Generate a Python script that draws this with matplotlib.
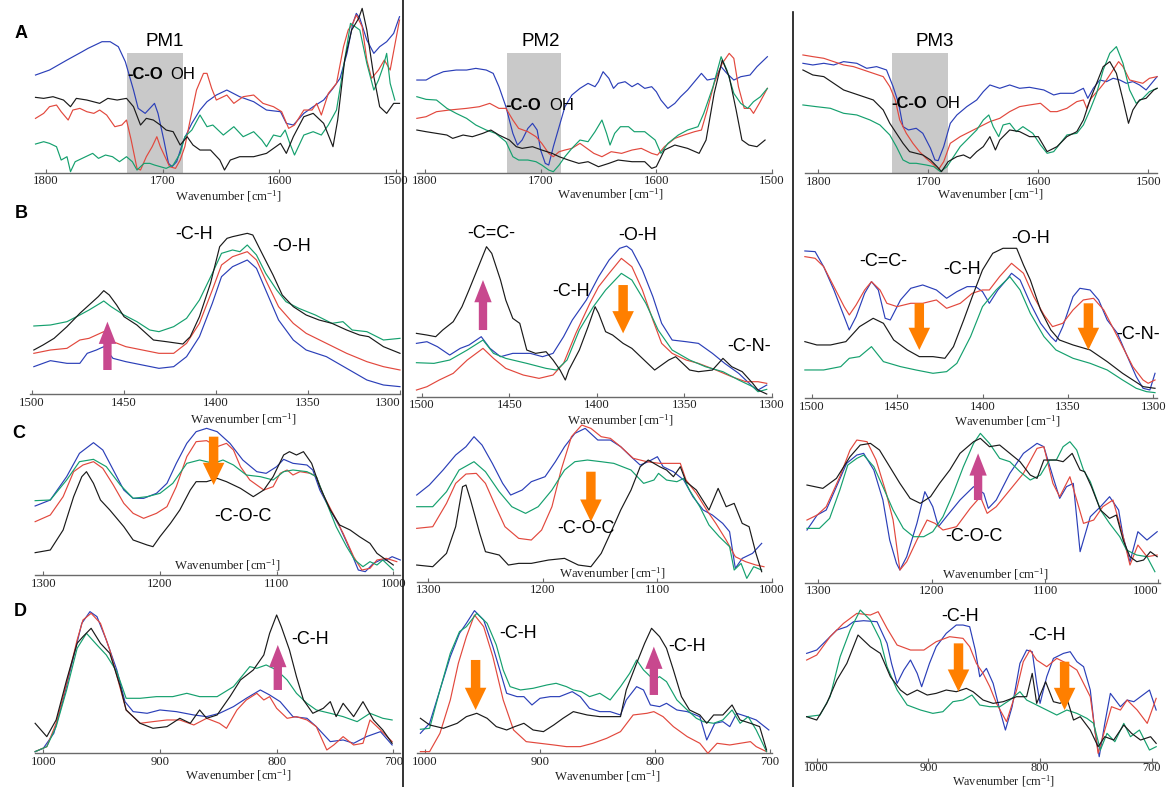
import matplotlib
matplotlib.use('Agg')
import matplotlib.pyplot as plt
from matplotlib.lines import Line2D

plt.rcParams['mathtext.fontset'] = 'custom'
plt.rcParams['mathtext.rm'] = 'Liberation Serif'
plt.rcParams['mathtext.it'] = 'Liberation Serif:italic'

W, H = 1169, 787
SERIF = 'Liberation Serif'
SANS = 'Liberation Sans'
COLORS = {'blue': '#2b3fb8', 'red': '#e2483d', 'green': '#15a06e', 'black': '#1a1a1a'}
MAGENTA = '#c8488e'
ORANGE = '#ff7f00'

# ---------------- DATA (absorbance, arbitrary units) ----------------
# Row A : 1800-1500 cm-1
A1_blue_x = [1809,1797,1782,1769,1764,1752,1745,1738,1732,1725,1721,1715,1711,1707,1704,1699,1695,1692,1688,1682,1675,1668,1662,1654,1645,1634,1622,1611,1599,1594,1588,1579,1571,1562,1554,1548,1542,1537,1534,1531,1525,1519,1514,1508,1502,1497]
A1_blue_y = [293,308,338,363,373,393,393,378,333,248,193,178,193,208,178,98,28,18,33,98,148,188,213,233,248,228,213,188,183,148,143,178,198,218,253,283,358,448,478,463,398,358,378,393,418,468]
A1_red_x = [1809,1802,1797,1791,1787,1781,1777,1771,1765,1759,1754,1748,1741,1735,1731,1727,1722,1719,1714,1709,1705,1702,1698,1694,1689,1685,1681,1677,1671,1665,1662,1658,1654,1645,1639,1631,1622,1614,1605,1598,1592,1587,1579,1572,1568,1564,1558,1551,1545,1541,1537,1534,1529,1525,1521,1515,1510,1505,1497]
A1_red_y = [163,178,198,203,183,158,188,193,183,178,188,173,138,143,158,98,13,8,48,78,108,78,48,18,13,38,78,148,248,298,298,253,218,233,208,228,233,208,198,183,133,143,188,188,208,173,238,268,378,428,448,473,438,338,283,308,338,308,458]
A1_green_x = [1809,1802,1797,1791,1787,1782,1779,1775,1769,1760,1755,1749,1743,1737,1731,1726,1722,1716,1711,1707,1702,1697,1691,1685,1681,1675,1668,1662,1657,1648,1639,1631,1622,1615,1611,1605,1599,1595,1591,1587,1579,1571,1564,1558,1551,1544,1539,1535,1531,1525,1519,1515,1511,1508,1505,1501]
A1_green_y = [86,93,88,78,38,48,3,33,43,58,43,53,48,33,48,33,8,28,28,23,18,13,23,58,108,128,173,138,143,113,138,108,123,98,78,113,108,128,88,53,113,123,113,143,188,338,448,438,428,328,248,278,318,358,268,218]
A1_black_x = [1809,1802,1794,1785,1779,1774,1765,1754,1747,1739,1731,1725,1719,1714,1708,1702,1697,1691,1685,1679,1674,1668,1659,1651,1647,1642,1634,1622,1611,1599,1594,1588,1579,1571,1562,1558,1554,1550,1544,1538,1532,1529,1525,1519,1514,1508,1502,1497]
A1_black_y = [226,223,228,218,198,223,218,208,223,218,223,198,143,163,158,143,128,123,83,108,83,68,68,38,8,38,48,48,58,88,58,108,168,178,148,113,78,158,338,428,463,493,428,288,198,178,208,208]

A2_blue_x = [1807,1799,1793,1784,1773,1764,1756,1747,1741,1736,1730,1724,1720,1716,1711,1707,1703,1700,1696,1693,1689,1684,1679,1673,1666,1659,1653,1650,1646,1641,1637,1633,1627,1621,1616,1610,1604,1600,1596,1590,1584,1579,1573,1567,1561,1556,1549,1544,1539,1533,1527,1519,1513,1504]
A2_blue_y = [278,278,290,303,308,308,313,308,298,258,198,118,83,98,133,148,128,68,28,23,78,138,198,233,253,268,258,273,303,283,253,268,273,258,268,253,258,243,218,193,208,228,248,273,298,278,283,318,298,278,288,293,318,348]
A2_red_x = [1807,1799,1790,1779,1764,1753,1744,1736,1730,1724,1719,1711,1704,1699,1693,1689,1684,1679,1673,1666,1660,1654,1647,1639,1630,1621,1613,1604,1599,1593,1584,1576,1567,1561,1556,1550,1543,1537,1533,1529,1524,1519,1516,1511,1504]
A2_red_y = [163,168,183,188,193,198,208,193,193,158,133,123,108,88,58,48,63,68,73,88,73,58,48,63,58,68,73,58,53,78,103,113,123,128,188,268,328,358,343,258,193,193,178,208,253]
A2_green_x = [1807,1799,1790,1781,1773,1764,1756,1747,1739,1730,1724,1719,1711,1704,1699,1693,1689,1684,1679,1673,1666,1659,1653,1647,1643,1640,1636,1631,1624,1619,1610,1601,1596,1590,1581,1573,1564,1559,1551,1544,1539,1533,1527,1521,1516,1510,1504]
A2_green_y = [228,220,218,193,178,163,143,128,118,93,48,38,38,33,23,8,3,23,48,73,98,93,123,158,118,83,118,138,138,123,123,98,58,88,113,128,138,178,258,348,308,238,208,193,213,228,253]
A2_black_x = [1807,1799,1790,1781,1776,1767,1759,1750,1743,1736,1727,1721,1716,1707,1699,1690,1684,1676,1667,1659,1650,1641,1633,1621,1610,1604,1600,1593,1584,1573,1563,1557,1550,1543,1537,1531,1526,1520,1513,1506]
A2_black_y = [128,123,118,113,103,113,108,118,128,113,98,78,73,78,68,58,48,38,28,33,18,28,38,33,33,13,18,68,83,73,58,98,238,338,288,188,98,83,78,98]

A3_blue_x = [1814,1805,1795,1786,1777,1765,1756,1747,1738,1732,1727,1723,1718,1711,1705,1698,1694,1691,1686,1680,1674,1665,1656,1650,1644,1635,1626,1617,1608,1595,1586,1580,1568,1559,1555,1550,1544,1538,1532,1526,1520,1514,1508,1502,1497,1492]
A3_blue_y = [330,325,330,325,335,330,315,320,310,260,210,140,130,135,120,75,40,38,80,150,175,200,220,245,265,255,265,255,258,250,235,240,240,255,225,255,280,275,285,280,270,275,265,250,270,290]
A3_red_x = [1814,1805,1795,1786,1777,1768,1759,1750,1741,1735,1730,1726,1720,1714,1708,1702,1695,1691,1686,1680,1671,1662,1653,1644,1635,1626,1617,1608,1598,1589,1583,1574,1565,1559,1556,1552,1544,1538,1532,1527,1523,1517,1511,1505,1499,1492]
A3_red_y = [355,350,345,335,325,320,310,300,290,260,220,160,120,90,65,45,25,10,35,90,110,125,140,155,165,185,200,205,210,185,185,195,215,220,195,225,255,280,310,335,320,280,275,270,285,290]
A3_green_x = [1814,1802,1789,1777,1765,1753,1744,1735,1729,1723,1717,1711,1702,1695,1689,1683,1677,1671,1662,1656,1650,1645,1641,1636,1632,1626,1620,1614,1605,1598,1592,1586,1580,1574,1565,1559,1553,1547,1541,1535,1529,1523,1517,1511,1505,1499,1492]
A3_green_y = [205,200,195,180,175,160,145,115,80,40,30,30,25,20,5,20,50,80,110,130,160,175,140,110,145,150,125,140,120,85,60,65,90,115,120,145,190,240,310,360,380,330,250,210,225,245,255]
A3_black_x = [1814,1805,1795,1786,1777,1768,1759,1750,1741,1735,1729,1723,1717,1711,1705,1698,1692,1688,1682,1674,1668,1662,1656,1650,1644,1639,1635,1626,1617,1608,1600,1592,1583,1574,1565,1559,1553,1547,1541,1535,1529,1523,1518,1514,1508,1502,1495,1492]
A3_black_y = [310,295,290,270,250,240,230,220,190,150,120,90,65,60,55,40,20,5,35,50,55,45,65,80,110,70,100,130,125,110,110,65,80,110,125,160,220,270,320,335,300,220,150,190,220,225,250,255]

# Row B : 1500-1300 cm-1
B1_blue_x = [1499,1490,1481,1474,1470,1465,1461,1456,1449,1440,1431,1423,1416,1409,1402,1397,1391,1383,1378,1373,1366,1358,1351,1340,1329,1318,1309,1300]
B1_blue_y = [82,100,92,92,122,132,142,107,97,87,77,82,112,172,272,352,382,402,377,312,222,162,132,112,77,42,27,22]
B1_red_x = [1499,1490,1481,1474,1469,1463,1461,1456,1449,1440,1431,1423,1416,1409,1402,1397,1391,1383,1378,1373,1366,1358,1351,1340,1329,1318,1309,1300]
B1_red_y = [122,132,137,162,167,182,187,157,142,132,122,122,152,212,312,387,412,427,402,342,262,212,182,152,122,97,82,72]
B1_green_x = [1499,1490,1481,1474,1469,1463,1461,1457,1450,1443,1436,1431,1423,1416,1409,1402,1397,1391,1387,1383,1378,1373,1367,1362,1355,1346,1337,1331,1326,1318,1309,1300]
B1_green_y = [204,207,217,237,252,272,279,262,237,217,192,187,202,227,282,362,422,432,427,447,417,362,312,277,257,237,212,217,192,187,162,167]
B1_black_x = [1499,1494,1488,1481,1474,1469,1464,1461,1458,1454,1450,1443,1438,1434,1427,1418,1414,1409,1403,1398,1394,1391,1383,1380,1375,1369,1364,1358,1351,1344,1337,1329,1322,1317,1309,1300]
B1_black_y = [132,147,167,202,242,267,292,310,297,267,232,207,182,162,157,150,172,232,332,442,467,472,482,477,422,357,297,262,237,222,212,192,177,172,142,122]

B2_blue_x = [1503,1497,1491,1484,1478,1473,1466,1461,1455,1448,1438,1431,1425,1419,1414,1406,1399,1393,1387,1383,1380,1374,1368,1363,1357,1349,1342,1334,1327,1319,1311,1308,1303]
B2_blue_y = [160,165,150,125,145,155,180,145,120,130,130,120,130,180,230,290,360,410,445,452,440,380,300,220,170,165,160,130,100,70,30,20,35]
B2_red_x = [1503,1497,1490,1482,1474,1465,1459,1452,1442,1433,1425,1419,1412,1404,1399,1393,1386,1380,1374,1368,1363,1357,1349,1342,1332,1323,1315,1308,1303]
B2_red_y = [20,30,50,70,110,145,115,85,65,55,65,100,190,280,330,370,415,390,320,230,160,130,110,100,80,60,45,45,40]
B2_green_x = [1503,1493,1484,1474,1465,1459,1452,1440,1429,1423,1417,1410,1402,1395,1386,1380,1372,1365,1357,1347,1338,1328,1319,1311,1308,1303]
B2_green_y = [102,100,110,140,170,130,115,100,85,80,110,200,270,320,370,350,280,200,140,110,90,75,50,30,15,22]
B2_black_x = [1503,1497,1492,1488,1482,1477,1473,1468,1463,1460,1455,1452,1448,1444,1440,1435,1429,1425,1421,1418,1416,1410,1405,1401,1399,1395,1391,1385,1380,1374,1367,1363,1359,1355,1351,1347,1342,1334,1328,1323,1317,1311,1308,1303]
B2_black_y = [190,185,180,200,225,270,320,385,450,430,350,290,235,220,140,130,135,110,80,50,80,140,210,270,250,195,185,160,145,115,80,95,110,120,100,80,75,80,115,90,75,40,20,8]

B3_blue_x = [1504,1498,1493,1487,1481,1478,1474,1469,1465,1461,1457,1454,1448,1442,1435,1427,1421,1415,1409,1404,1400,1396,1391,1386,1383,1378,1372,1366,1360,1357,1353,1347,1343,1337,1332,1327,1321,1316,1310,1306,1302,1299]
B3_blue_y = [442,440,395,325,245,205,245,315,350,325,240,235,295,330,340,325,300,320,335,335,320,285,325,355,375,355,285,225,185,170,215,305,330,325,295,235,195,135,65,30,25,75]
B3_red_x = [1504,1498,1493,1487,1481,1478,1474,1469,1465,1460,1456,1450,1442,1435,1427,1421,1413,1406,1400,1396,1390,1383,1376,1370,1364,1359,1353,1347,1341,1335,1329,1323,1318,1312,1306,1303,1299]
B3_red_y = [425,420,395,335,275,250,280,325,350,325,285,275,285,285,295,270,285,315,325,325,365,405,375,305,250,215,225,265,295,300,265,205,155,95,55,45,55]
B3_green_x = [1504,1493,1483,1478,1472,1465,1458,1448,1439,1429,1421,1415,1407,1400,1392,1384,1378,1372,1364,1357,1347,1337,1327,1318,1310,1304,1299]
B3_green_y = [85,85,95,120,125,155,110,95,85,75,80,105,185,275,325,365,325,255,185,145,120,105,85,55,30,20,17]
B3_black_x = [1504,1497,1489,1480,1472,1464,1458,1452,1444,1437,1429,1422,1417,1411,1406,1400,1394,1388,1380,1376,1372,1366,1360,1355,1347,1337,1327,1318,1312,1306,1299]
B3_black_y = [170,160,160,170,215,240,225,175,145,125,125,120,155,235,305,385,435,450,450,400,355,265,205,175,160,145,110,75,55,35,30]

# Row C : 1300-1000 cm-1
C1_blue_x = [1307,1294,1280,1269,1257,1249,1240,1231,1223,1214,1203,1194,1186,1177,1169,1160,1151,1140,1129,1117,1109,1100,1094,1086,1074,1069,1063,1054,1046,1037,1030,1024,1017,1011,1006,1001,994]
C1_blue_y = [207,225,295,365,397,375,315,255,230,230,245,275,335,395,430,440,430,395,345,310,305,325,347,335,330,315,255,195,145,75,15,10,35,45,45,55,45]
C1_red_x = [1307,1294,1283,1274,1266,1257,1249,1240,1231,1223,1214,1203,1194,1186,1177,1169,1160,1151,1143,1137,1131,1123,1111,1103,1097,1091,1086,1080,1071,1066,1060,1051,1043,1034,1027,1020,1014,1006,997]
C1_red_y = [160,180,235,310,330,340,320,270,215,185,170,185,205,265,355,400,403,385,395,375,325,285,255,265,305,315,300,310,305,295,240,180,125,55,15,20,45,50,40]
C1_green_x = [1307,1294,1280,1269,1257,1246,1234,1223,1211,1200,1189,1177,1166,1154,1146,1137,1126,1114,1103,1094,1086,1074,1066,1057,1049,1040,1033,1026,1020,1014,1009,1000]
C1_green_y = [223,225,285,340,347,325,270,230,235,245,275,335,345,335,345,330,300,295,285,310,315,310,295,215,145,85,45,25,40,30,45,15]
C1_black_x = [1307,1294,1283,1274,1267,1263,1257,1251,1243,1231,1223,1211,1206,1200,1191,1183,1174,1169,1160,1151,1143,1131,1120,1111,1103,1094,1089,1083,1077,1070,1063,1054,1046,1037,1029,1020,1014,1006,1000]
C1_black_y = [67,75,135,235,295,310,275,225,195,145,105,90,85,115,155,195,255,280,280,290,280,260,235,255,295,360,370,360,370,335,265,195,150,135,115,95,65,45,30]

C2_blue_x = [1310,1299,1287,1276,1267,1260,1253,1244,1235,1228,1218,1210,1198,1189,1181,1172,1163,1152,1141,1132,1123,1115,1108,1100,1095,1086,1077,1069,1060,1052,1043,1037,1032,1026,1017,1009]
C2_blue_y = [260,290,335,380,405,435,410,355,295,260,275,300,315,360,405,445,460,425,425,405,375,350,360,375,345,330,305,255,215,200,175,150,40,70,85,115]
C2_red_x = [1310,1296,1284,1276,1267,1258,1250,1241,1233,1221,1210,1201,1192,1184,1175,1166,1158,1149,1141,1132,1121,1109,1098,1089,1080,1075,1066,1057,1049,1040,1032,1023,1014,1007]
C2_red_y = [160,165,235,295,323,325,295,225,165,130,125,155,225,335,435,470,460,435,430,405,370,360,355,355,355,305,265,215,175,125,75,60,50,45]
C2_green_x = [1310,1296,1284,1273,1260,1250,1238,1227,1215,1204,1192,1181,1172,1161,1149,1138,1123,1112,1103,1099,1092,1083,1077,1072,1063,1055,1046,1037,1033,1027,1022,1016,1009]
C2_green_y = [225,225,270,335,360,330,270,225,205,225,275,335,360,365,360,355,335,295,305,325,305,300,310,275,225,170,135,105,35,55,10,45,35]
C2_black_x = [1310,1296,1284,1276,1270,1267,1263,1255,1250,1238,1230,1221,1210,1195,1181,1169,1158,1149,1141,1132,1123,1115,1108,1098,1092,1086,1080,1075,1066,1055,1047,1040,1033,1026,1020,1014,1009]
C2_black_y = [50,45,85,165,285,290,245,145,90,80,50,55,55,65,70,50,45,85,145,215,275,345,365,345,335,315,345,300,275,215,280,225,235,175,165,85,30]

C3_blue_x = [1310,1301,1293,1284,1275,1266,1260,1251,1243,1237,1231,1228,1222,1213,1206,1199,1194,1187,1175,1163,1154,1150,1143,1131,1119,1107,1101,1093,1087,1081,1075,1069,1060,1051,1043,1035,1031,1025,1018,1010,1001]
C3_blue_y = [158,203,218,288,358,383,388,338,248,128,58,38,78,178,273,228,168,198,248,288,268,223,248,328,388,418,408,318,253,288,298,93,198,228,258,218,138,63,153,128,153]
C3_red_x = [1310,1301,1293,1281,1272,1266,1257,1249,1240,1234,1228,1222,1213,1204,1197,1190,1178,1166,1157,1151,1143,1131,1119,1107,1101,1093,1087,1078,1072,1066,1057,1049,1040,1031,1025,1018,1010,1001]
C3_red_y = [188,203,228,318,398,428,423,368,268,188,38,63,128,188,178,158,168,223,258,208,228,278,328,403,408,298,258,318,248,178,188,228,248,138,53,113,78,83]
C3_green_x = [1310,1299,1290,1281,1274,1266,1260,1251,1243,1234,1225,1216,1207,1199,1190,1181,1172,1163,1157,1149,1140,1131,1122,1113,1104,1096,1090,1084,1078,1072,1066,1060,1051,1043,1034,1028,1019,1010,1003]
C3_green_y = [163,163,193,278,353,373,383,348,288,218,163,138,138,153,198,268,348,418,448,418,373,363,333,308,323,368,368,408,423,398,338,303,218,178,138,98,83,78,33]
C3_black_x = [1310,1296,1284,1272,1263,1254,1246,1237,1228,1219,1210,1201,1193,1184,1175,1163,1157,1149,1140,1131,1122,1113,1107,1101,1096,1090,1084,1076,1069,1065,1059,1051,1043,1037,1031,1025,1019,1013,1007,1001]
C3_black_y = [293,283,313,378,413,418,398,348,298,253,238,258,298,338,388,423,433,408,413,388,363,323,313,368,368,368,363,388,338,333,288,218,193,203,128,78,63,68,93,78]

# Row D : 1000-700 cm-1
D1_blue_x = [1007,1000,991,983,974,967,960,954,946,937,930,923,911,900,886,871,860,849,837,826,814,806,797,786,774,766,754,743,734,723,711,701]
D1_blue_y = [5,15,60,160,290,390,425,410,340,250,155,125,120,130,125,115,110,120,140,165,190,175,155,110,105,80,35,40,30,50,65,25]
D1_red_x = [1007,997,989,980,971,966,959,951,943,936,929,917,906,894,883,871,860,849,843,834,826,817,811,806,800,791,783,774,766,757,751,743,734,726,720,711,701]
D1_red_y = [5,20,90,210,340,400,420,390,310,220,130,90,95,100,100,85,105,90,75,130,160,180,160,170,135,105,110,100,80,10,25,50,25,30,100,70,35]
D1_green_x = [1007,997,989,980,971,963,954,946,937,929,917,903,889,877,866,851,837,823,817,809,800,791,783,774,766,754,743,731,720,709,701]
D1_green_y = [5,20,80,190,315,360,325,295,245,165,165,170,170,180,170,170,200,260,255,265,250,220,180,150,130,120,110,95,120,105,100]
D1_black_x = [1007,997,989,980,971,966,959,951,943,934,929,917,906,894,883,874,866,860,851,840,831,820,811,806,800,796,789,783,777,769,760,754,749,743,734,726,717,709,701]
D1_black_y = [90,50,100,220,330,350,375,330,300,200,130,90,75,80,105,90,130,105,115,170,220,250,295,360,415,380,310,230,160,120,135,155,110,150,110,155,100,70,30]

D2_blue_x = [1004,996,987,978,970,964,957,949,941,935,929,920,914,907,900,891,883,872,865,857,848,839,830,825,816,810,804,796,790,781,772,761,755,748,741,735,729,720,712,701]
D2_blue_y = [60,90,190,290,360,390,428,400,320,250,180,170,170,145,165,170,170,185,170,135,125,125,115,160,200,190,145,140,150,130,125,110,40,90,95,80,120,110,100,70]
D2_red_x = [1004,996,987,978,971,964,957,949,941,932,923,912,900,888,877,865,854,842,830,819,807,801,793,784,772,761,754,746,735,726,717,712,703]
D2_red_y = [5,5,60,160,270,350,415,380,290,160,70,35,30,25,20,20,30,45,65,115,120,125,110,80,50,30,0,30,25,30,35,20,5]
D2_green_x = [1004,996,987,978,970,964,955,946,938,932,926,917,906,894,886,877,871,864,857,848,839,830,822,816,810,801,796,790,781,772,764,758,749,741,733,726,719,712,703]
D2_green_y = [72,75,190,300,365,380,420,390,325,250,200,190,195,205,210,200,190,185,170,180,160,200,240,280,250,220,230,215,160,130,105,95,90,100,130,90,110,70,5]
D2_black_x = [1004,996,984,972,964,955,946,938,929,922,914,906,897,888,880,871,859,848,839,830,825,816,809,803,796,790,784,777,770,761,755,749,741,733,726,717,709,703]
D2_black_y = [105,85,75,90,110,120,105,80,70,80,90,70,65,85,105,125,115,110,110,110,190,270,330,375,350,315,250,170,130,115,90,115,115,145,100,90,80,10]

D3_blue_x = [1009,1000,991,982,973,967,958,946,937,933,928,922,916,910,906,899,893,884,875,869,863,858,854,848,842,836,831,825,818,812,807,803,800,794,788,779,773,767,761,755,751,747,742,737,728,722,716,710,702,696]
D3_blue_y = [325,335,365,395,405,420,423,420,355,295,235,275,305,265,225,295,345,385,410,410,405,335,255,280,235,155,95,165,295,335,330,235,175,255,310,325,330,300,285,215,95,15,115,205,165,185,180,195,215,155]
D3_red_x = [1009,1000,988,976,964,952,945,937,928,916,904,893,881,869,863,857,851,845,839,830,821,815,809,803,794,785,776,767,761,755,748,742,736,728,722,713,704,696]
D3_red_y = [305,320,375,415,445,440,450,400,350,335,335,360,375,370,345,295,265,225,175,120,215,300,335,305,285,310,295,275,235,195,25,95,165,155,185,155,115,190]
D3_green_x = [1009,997,988,979,970,961,952,943,937,928,919,907,896,887,878,869,861,854,845,836,827,818,812,803,794,785,776,767,758,752,746,740,733,725,719,711,702,696]
D3_green_y = [135,140,195,315,395,455,425,365,285,215,170,155,145,150,180,185,200,170,165,165,185,210,185,170,155,140,155,145,130,115,35,85,60,115,75,95,35,45]
D3_black_x = [1009,1000,991,982,973,963,952,943,934,925,919,910,901,893,884,875,866,860,851,842,833,821,812,807,803,795,788,782,776,770,764,755,748,742,734,725,718,710,701,696]
D3_black_y = [135,125,175,245,295,380,345,325,255,215,200,215,200,205,215,210,220,210,185,175,180,195,195,265,175,240,180,175,190,125,135,95,45,75,65,110,85,65,75,55]

TICKS_A = [1800, 1700, 1600, 1500]
TICKS_B = [1500, 1450, 1400, 1350, 1300]
TICKS_C = [1300, 1200, 1100, 1000]
TICKS_D = [1000, 900, 800, 700]

# ---------------- LAYOUT (pixel calibration of each panel) ----------------
LAYOUT = {
    'A1': dict(cal=(1800, 46, 1500, 396), xr=(35, 400), base=172.7, top=0, ticks=TICKS_A),
    'A2': dict(cal=(1800, 425, 1500, 775), xr=(417, 772), base=172.7, top=0, ticks=TICKS_A),
    'A3': dict(cal=(1800, 818.3, 1500, 1148.3), xr=(805, 1157), base=173.3, top=0, ticks=TICKS_A),
    'B1': dict(cal=(1500, 32, 1300, 400.7), xr=(30, 400), base=394, top=200, ticks=TICKS_B),
    'B2': dict(cal=(1500, 421.7, 1300, 773.3), xr=(417, 772), base=396.7, top=200, ticks=TICKS_B),
    'B3': dict(cal=(1500, 811.7, 1300, 1153.3), xr=(805, 1157), base=398.3, top=200, ticks=TICKS_B),
    'C1': dict(cal=(1300, 43.3, 1000, 393.3), xr=(35, 400), base=575, top=420, ticks=TICKS_C),
    'C2': dict(cal=(1300, 428.3, 1000, 776.7), xr=(417, 772), base=581.7, top=420, ticks=TICKS_C),
    'C3': dict(cal=(1300, 818.3, 1000, 1158.3), xr=(805, 1160), base=582.7, top=420, ticks=TICKS_C),
    'D1': dict(cal=(1000, 43.3, 700, 393.3), xr=(35, 400), base=753.3, top=600, ticks=TICKS_D),
    'D2': dict(cal=(1000, 425, 700, 770), xr=(417, 772), base=753.3, top=600, ticks=TICKS_D),
    'D3': dict(cal=(1000, 816.7, 700, 1151.7), xr=(805, 1157), base=761.7, top=600, ticks=TICKS_D),
}
RIGHT_ALIGN_LAST = ('B1', 'C3')

LABELS = [
    ('B1', '-C-H', 1412, 479), ('B1', '-O-H', 1359, 442),
    ('B2', '-C=C-', 1460, 490), ('B2', '-O-H', 1377, 485), ('B2', '-C-H', 1415, 315), ('B2', '-C-N-', 1313, 150),
    ('B3', '-C=C-', 1458, 410), ('B3', '-C-H', 1412, 385), ('B3', '-O-H', 1372, 480), ('B3', '-C-N-', 1309, 190),
    ('C1', '-C-O-C', 1129, 175), ('C2', '-C-O-C', 1162, 160), ('C3', '-C-O-C', 1163, 138),
    ('D1', '-C-H', 771, 340), ('D2', '-C-H', 919, 360), ('D2', '-C-H', 772, 320),
    ('D3', '-C-H', 872, 435), ('D3', '-C-H', 794, 380),
]
ARROWS = [
    ('B1', 1459, 72, 217, MAGENTA),
    ('B2', 1465, 200, 350, MAGENTA), ('B2', 1385, 335, 190, ORANGE),
    ('B3', 1437, 285, 145, ORANGE), ('B3', 1338, 285, 145, ORANGE),
    ('C1', 1154, 415, 270, ORANGE), ('C2', 1158, 330, 180, ORANGE), ('C3', 1159, 248, 388, MAGENTA),
    ('D1', 799, 190, 325, MAGENTA), ('D2', 956, 280, 130, ORANGE), ('D2', 801, 175, 320, MAGENTA),
    ('D3', 873, 355, 210, ORANGE), ('D3', 778, 300, 155, ORANGE),
]
BANDS = [
    ('A1', 1730.6, 1682.6, 360, 'PM1', 1698, 393, 1730.6, 296, 1693.7),
    ('A2', 1729.4, 1682.0, 360, 'PM2', 1700, 393, 1730.6, 203, 1692.9),
    ('A3', 1733.3, 1682.4, 360, 'PM3', 1694, 395, 1733.3, 210, 1693.3),
]
XLABEL_POS = [(228, 196), (610, 194), (990, 194), (243, 419), (620, 420), (1007, 421),
              (227, 565), (612, 573), (995, 574), (238, 775), (607, 776), (1003, 781.5)]

# ---------------- FIGURE ----------------
fig = plt.figure(figsize=(W / 100, H / 100), dpi=100)
axes = {}
for name, L in LAYOUT.items():
    wa, pa, wb, pb = L['cal']
    slope = (pb - pa) / (wb - wa)
    x0 = wa + (L['xr'][0] - pa) / slope
    x1 = wa + (L['xr'][1] - pa) / slope
    ax = fig.add_axes([L['xr'][0] / W, 1 - L['base'] / H,
                       (L['xr'][1] - L['xr'][0]) / W, (L['base'] - L['top']) / H])
    ax.set_xlim(x0, x1)
    ax.set_ylim(0, (L['base'] - L['top']) * 3)
    ax.patch.set_alpha(0)
    for s in ('left', 'right', 'top'):
        ax.spines[s].set_visible(False)
    ax.spines['bottom'].set_color('#6a6a6a')
    ax.spines['bottom'].set_linewidth(1.0)
    ax.set_yticks([])
    ax.set_xticks(L['ticks'])
    fs = 8.8 if name == 'D3' else 9.2
    labs = ax.set_xticklabels([str(t) for t in L['ticks']], fontfamily=SERIF, fontsize=fs, color='#222222')
    if name in RIGHT_ALIGN_LAST:
        labs[-1].set_horizontalalignment('right')
    ax.tick_params(axis='x', direction='in', length=3, width=0.8, color='#6a6a6a',
                   pad=0.5 if name == 'D3' else 2)
    axes[name] = ax

g = globals()
for name, ax in axes.items():
    for c in ('blue', 'red', 'green', 'black'):
        ax.plot(g[f'{name}_{c}_x'], g[f'{name}_{c}_y'], color=COLORS[c], lw=0.85,
                solid_joinstyle='round', clip_on=False, zorder=3)

for (p, w0, w1, h, pm, pmx, pmy, tx, ty, ohx) in BANDS:
    ax = axes[p]
    ax.fill_between([w0, w1], 0, h, color='#c9c9c9', lw=0, zorder=1)
    ax.text(pmx, pmy, pm, fontfamily=SANS, fontsize=13.5, ha='center', va='center', zorder=5)
    ax.text(tx, ty, '-C-O', fontfamily=SANS, fontsize=12, fontweight='bold', ha='left', va='center', zorder=5)
    ax.text(ohx, ty, 'OH', fontfamily=SANS, fontsize=12, ha='left', va='center', zorder=5)

for (p, t, wx, vy) in LABELS:
    axes[p].text(wx, vy, t, fontfamily=SANS, fontsize=13, ha='center', va='center', zorder=5, clip_on=False)

for (p, wx, b, tip, col) in ARROWS:
    tw, hw = (6.0, 12.5) if col == MAGENTA else (6.8, 15.5)
    axes[p].annotate('', xy=(wx, tip), xytext=(wx, b),
                     arrowprops=dict(arrowstyle=f'simple,head_length=16,head_width={hw},tail_width={tw}',
                                     mutation_scale=1, color=col, shrinkA=0, shrinkB=0, lw=0),
                     zorder=6, annotation_clip=False)

for i, (px, py) in enumerate(XLABEL_POS):
    fig.text(px / W, 1 - py / H, 'Wavenumber [cm$^{-1}$]', fontfamily=SERIF,
             fontsize=8.8 if i == len(XLABEL_POS) - 1 else 9.2,
             ha='center', va='center', color='#222222')

for letter, (px, py) in zip('ABCD', [(21, 33), (21, 213), (19, 434), (20, 611)]):
    fig.text(px / W, 1 - py / H, letter, fontfamily=SANS, fontsize=13, fontweight='bold',
             ha='center', va='center')

fig.add_artist(Line2D([403 / W, 403 / W], [0, 1], color='#111111', lw=1.2))
fig.add_artist(Line2D([793 / W, 793 / W], [0, 1 - 12 / H], color='#111111', lw=1.2))

fig.savefig('out.png', dpi=100, facecolor='white')
